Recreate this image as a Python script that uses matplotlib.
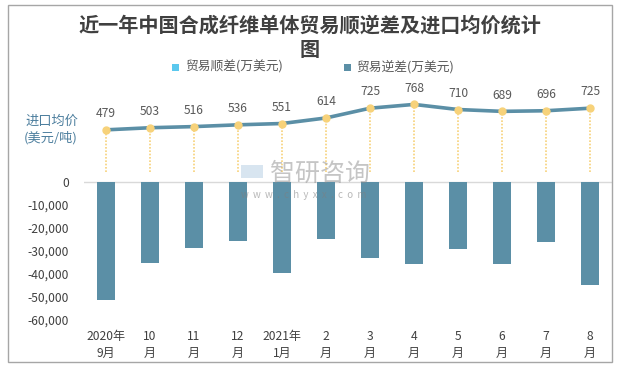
import matplotlib
matplotlib.use("Agg")
import matplotlib.pyplot as plt
from matplotlib.patches import Rectangle
from matplotlib.ticker import FuncFormatter

plt.rcParams['font.family'] = ['Noto Sans CJK SC', 'DejaVu Sans']

categories = ["2020年\n9月", "10\n月", "11\n月", "12\n月", "2021年\n1月", "2\n月",
              "3\n月", "4\n月", "5\n月", "6\n月", "7\n月", "8\n月"]
deficit = [-51300, -35100, -28600, -25600, -39500, -24700,
           -33000, -35600, -29100, -35600, -26000, -44700]
surplus = [0] * 12
price = [479, 503, 516, 536, 551, 614, 725, 768, 710, 689, 696, 725]
yticks = [0, -10000, -20000, -30000, -40000, -50000, -60000]

W, H = 618, 367
fig = plt.figure(figsize=(W / 100, H / 100), dpi=100)
fig.patch.set_facecolor("white")

# outer frame
fig.add_artist(Rectangle((8 / W, 1 - 362 / H), 604 / W, 357 / H, transform=fig.transFigure,
                         fill=False, edgecolor="#A6A6A6", lw=1.0))

left, right = 84 / W, 612 / W
bottom, top = 1 - 320 / H, 1 - 89.5 / H
ax = fig.add_axes([left, bottom, right - left, top - bottom])
ax2 = ax.twinx()

x = list(range(len(categories)))
bar_color = "#5B8FA6"
ax.bar(x, deficit, width=0.41, color=bar_color, zorder=2)
ax.bar(x, surplus, width=0.41, color="#5BC8EE", zorder=2)
ax.set_xlim(-0.5, len(categories) - 0.5)
ax.set_ylim(-60000, 40000)
ax.axhline(0, color="#D9D9D9", lw=1.0, zorder=1)
ax.set_yticks(yticks)
ax.yaxis.set_major_formatter(FuncFormatter(lambda v, p: f"{int(v):,}"))
ax.tick_params(axis="y", length=0, labelsize=8.7, labelcolor="#404040", pad=11)
ax.set_xticks(x)
ax.set_xticklabels(categories, fontsize=8.7, color="#404040", linespacing=1.45)
ax.tick_params(axis="x", length=0, pad=7)
for s in ax.spines.values():
    s.set_visible(False)

# price line on secondary scale
ax2.set_ylim(-1682, 937.5)
ax2.set_yticks([])
for s in ax2.spines.values():
    s.set_visible(False)
ax2.vlines(x, 0, price, colors="#F7D27A", linestyles=(0, (1, 1)), lw=1.2, zorder=2)
ax2.plot(x, price, color="#5B8FA6", lw=2.6, zorder=3, solid_capstyle="butt")
ax2.plot(x, price, linestyle="none", marker="o", ms=5, color="#F7D27A", zorder=4)
for xi, v in zip(x, price):
    ax2.annotate(str(v), (xi, v), xytext=(0, 7), textcoords="offset points",
                 ha="center", va="bottom", fontsize=8.7, color="#595959")

# title
fig.text(310 / W, 1 - 25 / H, "近一年中国合成纤维单体贸易顺逆差及进口均价统计", ha="center", va="center",
         fontsize=14.5, fontweight="bold", color="#404040")
fig.text(310 / W, 1 - 50 / H, "图", ha="center", va="center",
         fontsize=14.5, fontweight="bold", color="#404040")

# legend
fig.add_artist(Rectangle((172 / W, 1 - 71 / H), 7 / W, 7 / H, transform=fig.transFigure,
                         facecolor="#5BC8EE", edgecolor="none"))
fig.text(185 / W, 1 - 67 / H, "贸易顺差(万美元)", ha="left", va="center", fontsize=9.2, color="#595959")
fig.add_artist(Rectangle((344 / W, 1 - 71 / H), 7 / W, 7 / H, transform=fig.transFigure,
                         facecolor=bar_color, edgecolor="none"))
fig.text(356 / W, 1 - 67 / H, "贸易逆差(万美元)", ha="left", va="center", fontsize=9.2, color="#595959")

# secondary axis title
fig.text(25 / W, 1 - 121 / H, "进口均价", ha="left", va="center", fontsize=9.5, color="#4D7F9E")
fig.text(24 / W, 1 - 138 / H, "(美元/吨)", ha="left", va="center", fontsize=9.5, color="#4D7F9E")

# watermark
fig.add_artist(Rectangle((241 / W, 1 - 178 / H), 22 / W, 13 / H, transform=fig.transFigure,
                         facecolor="#A9C6DE", edgecolor="none", alpha=0.45, zorder=10))
fig.text(270 / W, 1 - 174 / H, "智研咨询", ha="left", va="center", fontsize=18,
         color="#8C8C8C", alpha=0.5, zorder=10)
fig.text(241 / W, 1 - 195 / H, "w  w  w  .  c  h  y  x  x  .  c  o  m", ha="left", va="center",
         fontsize=7, color="#7F7F7F", alpha=0.55, zorder=10)

fig.savefig("out.png", dpi=100)
